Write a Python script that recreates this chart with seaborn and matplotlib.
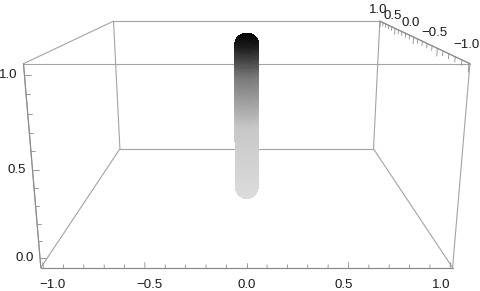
import numpy as np
import matplotlib
matplotlib.use("Agg")
import matplotlib.pyplot as plt
import seaborn as sns
from matplotlib.colors import LinearSegmentedColormap

# ---- data ----
tube_x = [0.0, 0.0]
tube_y = [0.0, 0.0]
tube_z = [0.0, 1.0]
tube_radius = 0.074
x_ticks = [-1.0, -0.5, 0.0, 0.5, 1.0]
y_ticks = [-1.0, -0.5, 0.0, 0.5, 1.0]
z_ticks = [0.0, 0.5, 1.0]
x_lim = (-1.012, 1.012)
y_lim = (-1.012, 1.012)
z_lim = (-0.055, 1.055)
box_ratio = (1.0, 1.0, 0.5)

sns.set_theme(style="white")
plt.rcParams['font.family'] = ['Liberation Sans', 'DejaVu Sans']

edge_col = "#a3a3a3"
axis_col = "#8a8a8a"
txt_col = "#1a1a1a"
W, H = 480, 291
fig = plt.figure(figsize=(W / 100, H / 100), dpi=100)
L = 471.0
cx, cy = 246.7, 173.0
frac = 0.5135
ax = fig.add_axes([(cx - frac * L) / W, (cy - frac * L) / H, L / W, L / H], projection="3d")
ax.computed_zorder = False
ax.set_proj_type("persp", focal_length=0.2516)
ax.view_init(elev=14.0, azim=-90)
ax.set_xlim(*x_lim); ax.set_ylim(*y_lim); ax.set_zlim(*z_lim)
ax.set_box_aspect(box_ratio, zoom=1.0)
ax.set_xticks([]); ax.set_yticks([]); ax.set_zticks([])
ax.set_axis_off()

xs, ys, zs = x_lim, y_lim, z_lim
lw = 0.8
for y in ys:
    for z in zs:
        ax.plot(xs, [y, y], [z, z], color=edge_col, lw=lw, zorder=1)
for x in xs:
    for z in zs:
        ax.plot([x, x], ys, [z, z], color=edge_col, lw=lw, zorder=1)
for x in xs:
    for y in ys:
        ax.plot([x, x], [y, y], zs, color=edge_col, lw=lw, zorder=1)
# axis edges slightly darker
ax.plot(xs, [ys[0]] * 2, [zs[0]] * 2, color=axis_col, lw=lw, zorder=2)
ax.plot([xs[0]] * 2, [ys[0]] * 2, zs, color=axis_col, lw=lw, zorder=2)
ax.plot([xs[1]] * 2, ys, [zs[1]] * 2, color=axis_col, lw=lw, zorder=2)

def minor(lo, hi):
    return [v / 10 for v in range(int(np.ceil(lo * 10)), int(np.floor(hi * 10)) + 1)]

def is_major(v):
    return abs(v * 2 - round(v * 2)) < 1e-9

for v in minor(*x_lim):
    Lt = 0.03 if is_major(v) else 0.017
    ax.plot([v, v], [y_lim[0]] * 2, [z_lim[0], z_lim[0] + Lt], color=axis_col, lw=0.6, zorder=2)
for v in minor(*z_lim):
    Lt = 0.03 if is_major(v) else 0.018
    ax.plot([x_lim[0], x_lim[0] + Lt], [y_lim[0]] * 2, [v, v], color=axis_col, lw=0.6, zorder=2)
for v in minor(*y_lim):
    Lt = 0.045 if is_major(v) else 0.028
    ax.plot([x_lim[1]] * 2, [v, v], [z_lim[1], z_lim[1] - Lt], color=axis_col, lw=0.6, zorder=2)

fmt = lambda v: f"{v:.1f}".replace("-", "\u2212")
fs = 9.5
for v in x_ticks:
    ax.text(v, y_lim[0] + 0.11, z_lim[0] - 0.17, fmt(v), ha="center", va="center",
            fontsize=fs, color=txt_col)
for v in z_ticks:
    ax.text(x_lim[0] - 0.03, y_lim[0], v, fmt(v), ha="right", va="center",
            fontsize=fs, color=txt_col)
for v in y_ticks:
    ax.text(x_lim[1] - 0.02, v, z_lim[1] + 0.09, fmt(v), ha="center", va="center",
            fontsize=fs, color=txt_col)

# tube: surface of revolution with rounded caps (round in world space)
zscale = (box_ratio[2] / box_ratio[0]) * (x_lim[1] - x_lim[0]) / (z_lim[1] - z_lim[0])
z0, z1 = tube_z
r = tube_radius
rz = r / zscale
zz = np.linspace(z0 - rz, z1 + rz, 140)
dz_low = (zz - z0) * zscale
dz_high = (zz - z1) * zscale
prof = np.where(zz < z0, np.sqrt(np.clip(r**2 - dz_low**2, 0, None)),
                np.where(zz > z1, np.sqrt(np.clip(r**2 - dz_high**2, 0, None)), r))
th = np.linspace(0, 2*np.pi, 48)
TH, ZZ = np.meshgrid(th, zz)
PR = np.repeat(prof[:, None], len(th), axis=1)
X = tube_x[0] + PR*np.cos(TH)
Y = tube_y[0] + PR*np.sin(TH)
cmap = LinearSegmentedColormap.from_list("g", [(0.0, "#dcdcdc"), (0.45, "#c8c8c8"),
                                              (0.75, "#7a7a7a"), (0.92, "#202020"), (1.0, "#000000")])
t = (ZZ - zz[0]) / (zz[-1] - zz[0])
ax.plot_surface(X, Y, ZZ, facecolors=cmap(t), shade=False, linewidth=0,
                antialiased=False, rstride=1, cstride=1, zorder=5)

fig.savefig("out.png", dpi=100)
